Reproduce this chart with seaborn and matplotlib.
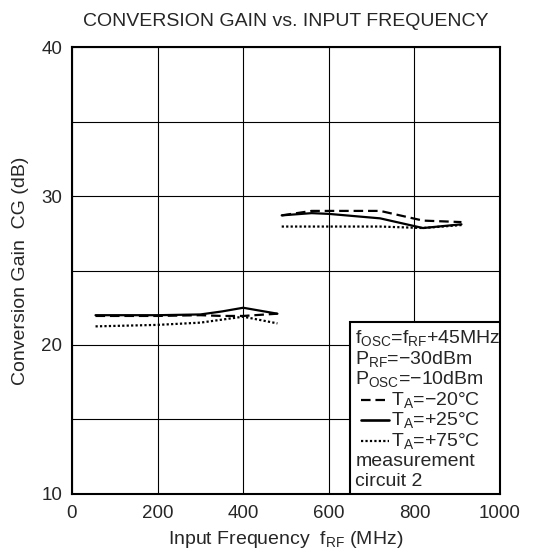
import numpy as np
import pandas as pd
import matplotlib
matplotlib.use("Agg")
import matplotlib.pyplot as plt
import seaborn as sns
from matplotlib.lines import Line2D
from matplotlib.patches import Rectangle

# data (MHz, dB)
freq_low = [55, 200, 300, 350, 400, 480]
freq_high = [490, 560, 600, 720, 820, 910]

gain_m20_low = [21.95, 21.95, 22.0, 21.95, 21.95, 22.1]
gain_p25_low = [22.0, 22.0, 22.05, 22.25, 22.5, 22.1]
gain_p75_low = [21.25, 21.35, 21.5, 21.7, 21.9, 21.45]

gain_m20_high = [28.7, 29.0, 29.0, 29.0, 28.35, 28.25]
gain_p25_high = [28.7, 28.85, 28.8, 28.5, 27.85, 28.1]
gain_p75_high = [27.95, 27.95, 27.95, 27.95, 27.85, 28.05]

temps = ["-20", "+25", "+75"]

rows = []
for t, lo, hi in zip(temps,
                     [gain_m20_low, gain_p25_low, gain_p75_low],
                     [gain_m20_high, gain_p25_high, gain_p75_high]):
    for f, g in zip(freq_low, lo):
        rows.append({"freq": f, "gain": g, "temp": t, "seg": "low"})
    for f, g in zip(freq_high, hi):
        rows.append({"freq": f, "gain": g, "temp": t, "seg": "high"})
df = pd.DataFrame(rows)

sns.set_style("white")
plt.rcParams["font.family"] = ["Liberation Sans", "DejaVu Sans"]
plt.rcParams["mathtext.fontset"] = "custom"
plt.rcParams["mathtext.rm"] = "Liberation Sans"
plt.rcParams["mathtext.it"] = "Liberation Sans"

fig = plt.figure(figsize=(5.34, 5.59), dpi=100)
ax = fig.add_axes([0.1348, 0.1163, 0.8015, 0.7996])

dash_styles = {"-20": (4.3, 2.2), "+25": "", "+75": (1, 1)}
sns.lineplot(data=df, x="freq", y="gain", style="temp", units="seg",
             estimator=None, dashes=dash_styles, color="black",
             linewidth=1.6, legend=False, ax=ax, sort=False)

ax.set_xlim(0, 1000)
ax.set_ylim(10, 40)
ax.set_xticks([0, 200, 400, 600, 800, 1000])
ax.set_yticks([10, 15, 20, 25, 30, 35, 40])
ax.set_yticklabels(["10", "", "20", "", "30", "", "40"])
ax.grid(True, color="black", linewidth=0.8)
ax.tick_params(length=0, labelsize=13.5)
ax.tick_params(axis="x", pad=8)
ax.tick_params(axis="y", pad=7)
for s in ax.spines.values():
    s.set_color("black")
    s.set_linewidth(1.5)

fs = 14
ax.set_title("CONVERSION GAIN vs. INPUT FREQUENCY", fontsize=fs, pad=15)
ax.set_xlabel(r"Input Frequency  f$_{\mathrm{RF}}$ (MHz)", fontsize=fs, labelpad=5)
ax.set_ylabel("Conversion Gain  CG (dB)", fontsize=fs, labelpad=9)

# condition box
bx0 = 0.65
ax.add_patch(Rectangle((bx0, 0.0), 1 - bx0, 0.385, transform=ax.transAxes,
                       facecolor="white", edgecolor="black", linewidth=1.5,
                       zorder=5))
tx = bx0 + 0.012
step = 0.0459
ytop = 0.349
lines_txt = [
    r"f$_{\mathrm{OSC}}$=f$_{\mathrm{RF}}$+45MHz",
    r"P$_{\mathrm{RF}}$=−30dBm",
    r"P$_{\mathrm{OSC}}$=−10dBm",
]
for i, t in enumerate(lines_txt):
    ax.text(tx, ytop - i * step, t, transform=ax.transAxes, fontsize=fs,
            va="center", ha="left", zorder=6)
leg = [((4.3, 2.2), r"T$_{\mathrm{A}}$=−20°C"),
       (None, r"T$_{\mathrm{A}}$=+25°C"),
       ((1, 1), r"T$_{\mathrm{A}}$=+75°C")]
for j, (d, t) in enumerate(leg):
    yy = ytop - (3 + j) * step
    ln = Line2D([bx0 + 0.026, bx0 + 0.090], [yy, yy], transform=ax.transAxes,
                color="black", linewidth=1.6 if d is not None else 1.9, zorder=6)
    if d is not None:
        ln.set_dashes(d)
    ax.add_line(ln)
    ax.text(bx0 + 0.096, yy, t, transform=ax.transAxes, fontsize=fs,
            va="center", ha="left", zorder=6)
for k, t in enumerate(["measurement", "circuit 2"]):
    ax.text(tx, ytop - (6 + k) * step, t, transform=ax.transAxes,
            fontsize=fs, va="center", ha="left", zorder=6)

fig.savefig("out.png", dpi=100)
